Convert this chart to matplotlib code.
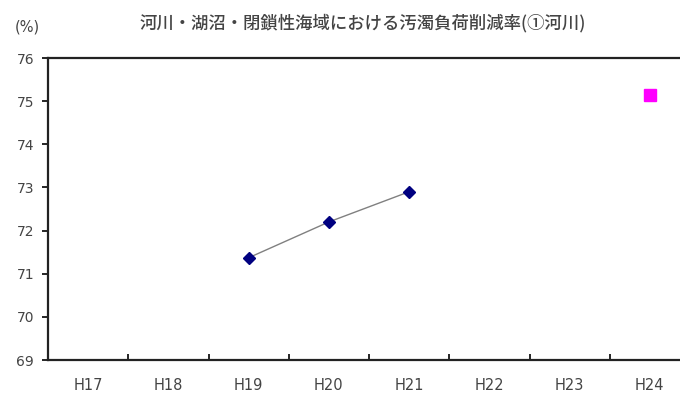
import matplotlib
matplotlib.use('Agg')
import matplotlib.pyplot as plt

plt.rcParams['font.family'] = ['Noto Sans CJK JP', 'DejaVu Sans']

# data
categories = ['H17', 'H18', 'H19', 'H20', 'H21', 'H22', 'H23', 'H24']
actual_years = ['H19', 'H20', 'H21']
actual_values = [71.37, 72.2, 72.9]
target_years = ['H24']
target_values = [75.15]
y_ticks = [69, 70, 71, 72, 73, 74, 75, 76]

TITLE = '河川・湖沼・閉鎖性海域における汚濁負荷削減率(①河川)'
TEXT_COLOR = '#444444'

fig = plt.figure(figsize=(6.8, 3.95), dpi=100)
ax = fig.add_axes([48 / 680, 35 / 395, 642 / 680, 302 / 395])

xpos = {c: i for i, c in enumerate(categories)}
ax.plot([xpos[c] for c in actual_years], actual_values, color='#808080',
        lw=1.0, marker='D', ms=6, mfc='#000080', mec='#000080', zorder=3)
ax.plot([xpos[c] for c in target_years], target_values, ls='none',
        marker='s', ms=8, mfc='#ff00ff', mec='#ff00ff', zorder=3)

ax.set_xlim(-0.5, len(categories) - 0.5)
ax.set_ylim(69, 76)
ax.set_yticks(y_ticks)
ax.set_yticklabels([str(v) for v in y_ticks], fontsize=10,
                   color=TEXT_COLOR, family='DejaVu Sans')
ax.set_xticks(range(len(categories)))
ax.set_xticklabels(categories, fontsize=10.5, color=TEXT_COLOR,
                   family='DejaVu Sans')
ax.tick_params(axis='x', length=0, pad=13)
ax.set_xticks([i + 0.5 for i in range(len(categories) - 1)], minor=True)
ax.tick_params(axis='x', which='minor', direction='in', length=4, width=1.2)
ax.tick_params(axis='y', direction='out', length=4, width=1.2, pad=6)

for side in ['top', 'left', 'bottom']:
    ax.spines[side].set_linewidth(1.6)
    ax.spines[side].set_color('#222222')
ax.spines['right'].set_visible(False)

fig.text(363 / 680, 1 - 23 / 395, TITLE, ha='center', va='center',
         fontsize=12.5, fontweight='medium', color=TEXT_COLOR)
fig.text(27 / 680, 1 - 27 / 395, '(%)', ha='center', va='center',
         fontsize=10.5, color=TEXT_COLOR, family='DejaVu Sans')

fig.savefig('out.png', dpi=100)
